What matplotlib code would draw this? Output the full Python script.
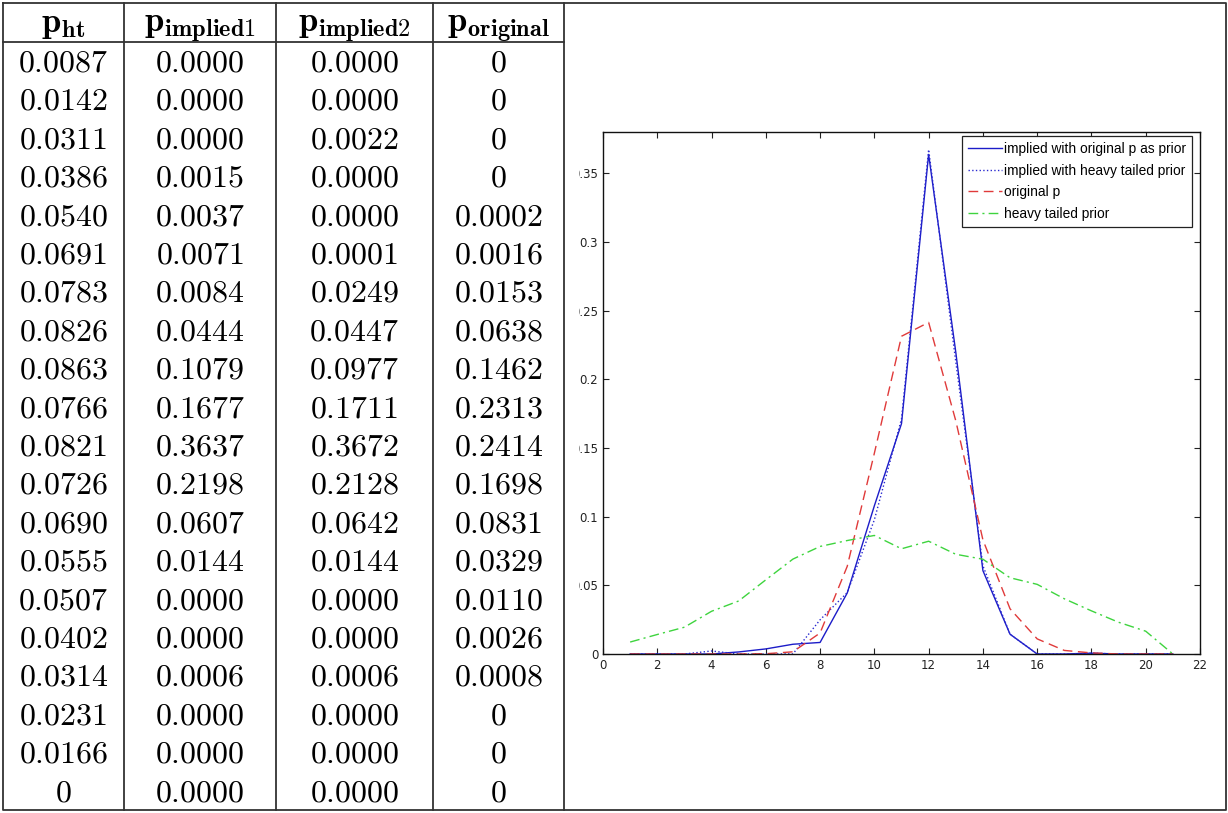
import matplotlib
matplotlib.use("Agg")
import matplotlib.pyplot as plt
from matplotlib.patches import Rectangle

plt.rcParams["mathtext.fontset"] = "cm"
plt.rcParams["font.family"] = ["DejaVu Sans"]

# x positions of the plotted points
x_vals = list(range(1, 22))

# heavy tailed prior, implied (orig. prior), implied (heavy prior), original p
p_ht = [0.0087, 0.0142, 0.0195, 0.0311, 0.0386, 0.0540, 0.0691, 0.0783, 0.0826, 0.0863,
        0.0766, 0.0821, 0.0726, 0.0690, 0.0555, 0.0507, 0.0402, 0.0314, 0.0231, 0.0166, 0.0]
p_implied1 = [0.0, 0.0, 0.0, 0.0, 0.0015, 0.0037, 0.0071, 0.0084, 0.0444, 0.1079,
              0.1677, 0.3637, 0.2198, 0.0607, 0.0144, 0.0, 0.0, 0.0006, 0.0, 0.0, 0.0]
p_implied2 = [0.0, 0.0, 0.0, 0.0022, 0.0, 0.0, 0.0001, 0.0249, 0.0447, 0.0977,
              0.1711, 0.3672, 0.2128, 0.0642, 0.0144, 0.0, 0.0, 0.0006, 0.0, 0.0, 0.0]
p_original = [0.0, 0.0, 0.0, 0.0, 0.0, 0.0002, 0.0016, 0.0153, 0.0638, 0.1462,
              0.2313, 0.2414, 0.1698, 0.0831, 0.0329, 0.0110, 0.0026, 0.0008, 0.0, 0.0, 0.0]

# the table leaves out the third point
table_skip = 2
col_titles = [r"$\mathbf{p}_{\mathbf{ht}}$", r"$\mathbf{p}_{\mathbf{implied1}}$",
              r"$\mathbf{p}_{\mathbf{implied2}}$", r"$\mathbf{p}_{\mathbf{original}}$"]

legend_labels = ["implied with original p as prior", "implied with heavy tailed prior",
                 "original p", "heavy tailed prior"]
x_ticks = list(range(0, 23, 2))
y_ticks = [0, 0.05, 0.1, 0.15, 0.2, 0.25, 0.3, 0.35]
y_tick_labels = ["0", "0.05", "0.1", "0.15", "0.2", "0.25", "0.3", "0.35"]

W, H = 1228, 813
fig = plt.figure(figsize=(W / 100, H / 100), dpi=100)

# ---- chart on the right
ax = fig.add_axes([603 / W, 1 - 654 / H, (1200 - 603) / W, (654 - 132) / H])
ax.plot(x_vals, p_implied1, "-", color="#1c1cc8", lw=1.0, label=legend_labels[0])
ax.plot(x_vals, p_implied2, ":", color="#2a2ad0", lw=1.0, label=legend_labels[1])
ax.plot(x_vals, p_original, "--", color="#e03a3a", lw=1.0, dashes=(7, 4), label=legend_labels[2])
ax.plot(x_vals, p_ht, "-.", color="#3ed43e", lw=1.0, dashes=(7, 3, 1.5, 3), label=legend_labels[3])
ax.set_xlim(0, 22)
ax.set_ylim(0, 0.38)
ax.set_xticks(x_ticks)
ax.set_xticklabels([str(t) for t in x_ticks])
ax.set_yticks(y_ticks)
ax.set_yticklabels(y_tick_labels)
ax.tick_params(direction="in", top=True, right=True, length=4.5, width=0.8,
               labelsize=8.5, pad=3.5, colors="#222222")
for s in ax.spines.values():
    s.set_linewidth(1.0)
    s.set_color("#111111")

leg = ax.legend(loc="upper right", bbox_to_anchor=(1 - 8 / 597, 1 - 4 / 522),
                borderaxespad=0, fancybox=False, framealpha=1, edgecolor="#222222",
                prop={"family": "Liberation Sans", "size": 9.9},
                handlelength=2.5, handletextpad=0.1, labelspacing=0.55, borderpad=0.45)
leg.get_frame().set_linewidth(0.9)

# ---- table on the left (pixel coordinates)
tab = fig.add_axes([0, 0, 1, 1], zorder=10)
tab.set_xlim(0, W)
tab.set_ylim(H, 0)
tab.axis("off")
tab.patch.set_alpha(0)
tab.add_patch(Rectangle((0, 0), 578, H, color="white", zorder=0))

col_edges = [3, 124, 276, 433, 564]
header_bottom = 42
row_h = (810 - header_bottom) / 20
line_kw = dict(color="#333333", lw=1.3, solid_capstyle="projecting")

# outer frame of the whole picture
tab.plot([3, 1226, 1226, 3, 3], [3, 3, 810, 810, 3], **line_kw)
for xe in col_edges[1:]:
    tab.plot([xe, xe], [3, 810], **line_kw)
tab.plot([3, 564], [header_bottom, header_bottom], **line_kw)


def fmt(v, zero_as_int):
    if zero_as_int and v == 0:
        return "$0$"
    return "$%.4f$" % v


columns = [(p_ht, True), (p_implied1, False), (p_implied2, False), (p_original, True)]
for c, ((vals, zero_int), title) in enumerate(zip(columns, col_titles)):
    cx = (col_edges[c] + col_edges[c + 1]) / 2
    tab.text(cx, 32, title, ha="center", va="baseline", fontsize=25)
    r = 0
    for i, v in enumerate(vals):
        if i == table_skip:
            continue
        top = header_bottom + r * row_h
        tab.text(cx, top + 29.5, fmt(v, zero_int), ha="center", va="baseline", fontsize=23)
        r += 1

fig.savefig("out.png", dpi=100)
